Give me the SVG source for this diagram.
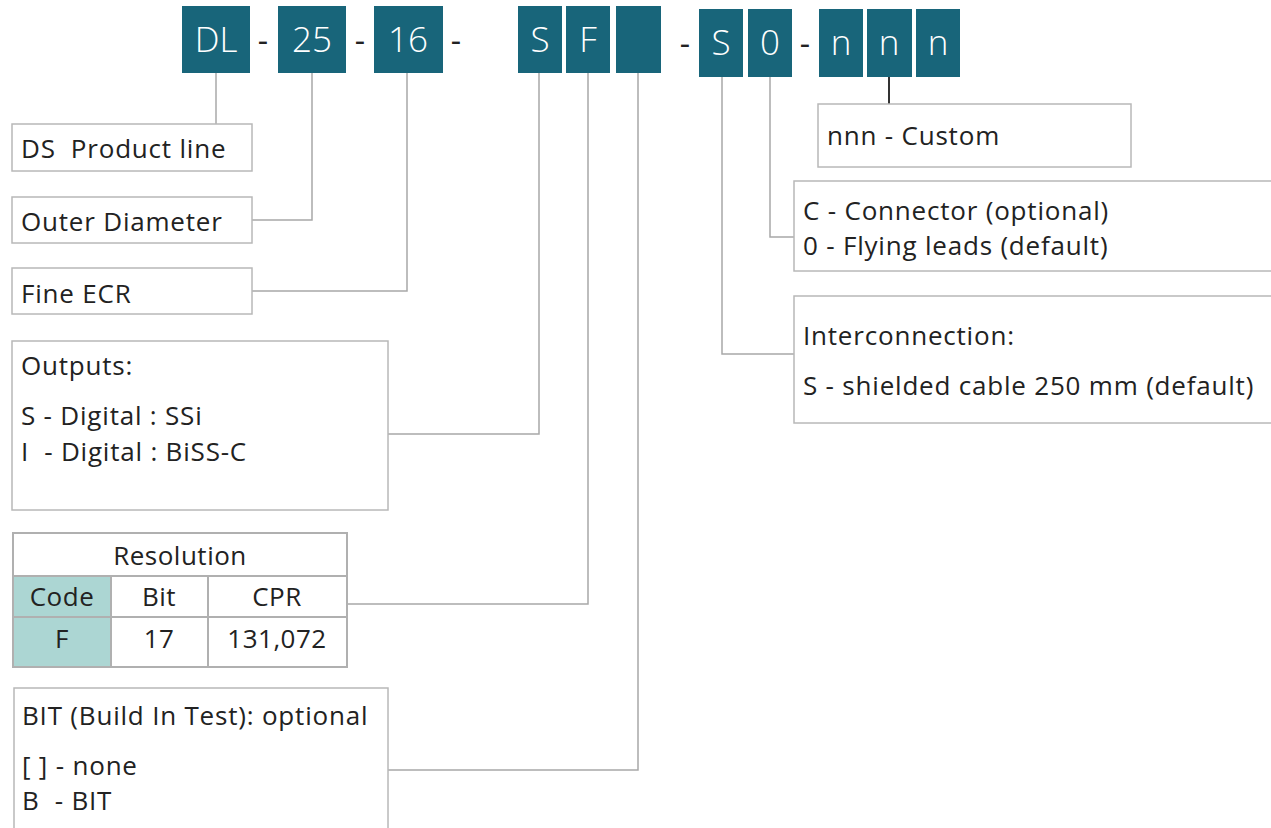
<svg xmlns="http://www.w3.org/2000/svg" width="1271" height="828" viewBox="0 0 1271 828">
<style>
.code{fill:#18657a}
.ct{fill:#ffffff;font-family:"Open Sans",sans-serif;font-weight:300;font-size:35px;text-anchor:middle}
.dash{fill:#222;font-family:"Open Sans",sans-serif;font-size:32px;text-anchor:middle}
.box{fill:#ffffff;stroke:#b8b8b8;stroke-width:1.5}
.t{fill:#222;font-family:"Open Sans",sans-serif;font-size:26px;letter-spacing:0.8px;white-space:pre}
.tc{fill:#222;font-family:"Open Sans",sans-serif;font-size:26px;letter-spacing:0.5px;text-anchor:middle}
.wire{fill:none;stroke:#a8a8a8;stroke-width:1.5}
.cell{stroke:#b0b0b0;stroke-width:2}
</style>
<rect width="1271" height="828" fill="#ffffff"/>
<g id="code">
<rect class="code" x="182" y="6" width="68" height="67"/><text class="ct" x="216" y="52">DL</text>
<text class="dash" x="263" y="52">-</text>
<rect class="code" x="278" y="6" width="68" height="67"/><text class="ct" x="312" y="52">25</text>
<text class="dash" x="360" y="52">-</text>
<rect class="code" x="374" y="6" width="69" height="67"/><text class="ct" x="408" y="52">16</text>
<text class="dash" x="456" y="52">-</text>
<rect class="code" x="518" y="6" width="44" height="67"/><text class="ct" x="540" y="52">S</text>
<rect class="code" x="566" y="6" width="44" height="67"/><text class="ct" x="588" y="52">F</text>
<rect class="code" x="616" y="6" width="45" height="67"/>
<text class="dash" x="685" y="55">-</text>
<rect class="code" x="699" y="9" width="44" height="68"/><text class="ct" x="721" y="55">S</text>
<rect class="code" x="748" y="9" width="44" height="68"/><text class="ct" x="770" y="55">0</text>
<text class="dash" x="805" y="55">-</text>
<rect class="code" x="819" y="9" width="44" height="68"/><text class="ct" x="841" y="55">n</text>
<rect class="code" x="867" y="9" width="45" height="68"/><text class="ct" x="889" y="55">n</text>
<rect class="code" x="916" y="9" width="44" height="68"/><text class="ct" x="938" y="55">n</text>
</g>
<g id="connectors">
<path class="wire" d="M216 73V124"/>
<path class="wire" d="M252 220H312V73"/>
<path class="wire" d="M252 291H407V73"/>
<path class="wire" d="M388 434H539V73"/>
<path class="wire" d="M347 604H588V73"/>
<path class="wire" d="M388 770H638V73"/>
<path class="wire" d="M794 354H722V77"/>
<path class="wire" d="M794 237H770V77"/>
<path d="M889 77V104" fill="none" stroke="#333" stroke-width="2"/>
</g>
<g id="product-line">
<rect class="box" x="12" y="124" width="240" height="47"/>
<text class="t" x="21" y="158" xml:space="preserve">DS  Product line</text>
</g>
<g id="outer-diameter">
<rect class="box" x="12" y="197" width="240" height="46"/>
<text class="t" x="21" y="231">Outer Diameter</text>
</g>
<g id="fine-ecr">
<rect class="box" x="12" y="268" width="240" height="46"/>
<text class="t" x="21" y="303">Fine ECR</text>
</g>
<g id="outputs">
<rect class="box" x="12" y="341" width="376" height="169"/>
<text class="t" x="21" y="375">Outputs:</text>
<text class="t" x="21" y="425">S - Digital : SSi</text>
<text class="t" x="21" y="461" xml:space="preserve">I  - Digital : BiSS-C</text>
</g>
<g id="resolution">
<rect x="13" y="576" width="98" height="91" fill="#acd6d3"/>
<rect x="13" y="533" width="334" height="134" fill="none" class="cell"/>
<path class="cell" d="M13 576H347M13 617H347M111 576V667M208 576V667"/>
<text class="tc" x="180" y="565">Resolution</text>
<text class="tc" x="62" y="606">Code</text>
<text class="tc" x="159" y="606">Bit</text>
<text class="tc" x="277" y="606">CPR</text>
<text class="tc" x="62" y="648">F</text>
<text class="tc" x="159" y="648">17</text>
<text class="tc" x="277" y="648">131,072</text>
</g>
<g id="bit">
<rect class="box" x="14" y="688" width="374" height="160"/>
<text class="t" x="22" y="725">BIT (Build In Test): optional</text>
<text class="t" x="22" y="775">[ ] - none</text>
<text class="t" x="22" y="810" xml:space="preserve">B  - BIT</text>
</g>
<g id="custom">
<rect class="box" x="818" y="104" width="313" height="63"/>
<text class="t" x="827" y="145">nnn - Custom</text>
</g>
<g id="connector-opt">
<rect class="box" x="794" y="181" width="490" height="90"/>
<text class="t" x="803" y="220">C - Connector (optional)</text>
<text class="t" x="803" y="255">0 - Flying leads (default)</text>
</g>
<g id="interconnection">
<rect class="box" x="794" y="296" width="490" height="127"/>
<text class="t" x="803" y="345">Interconnection:</text>
<text class="t" x="803" y="395">S - shielded cable 250 mm (default)</text>
</g>
</svg>
